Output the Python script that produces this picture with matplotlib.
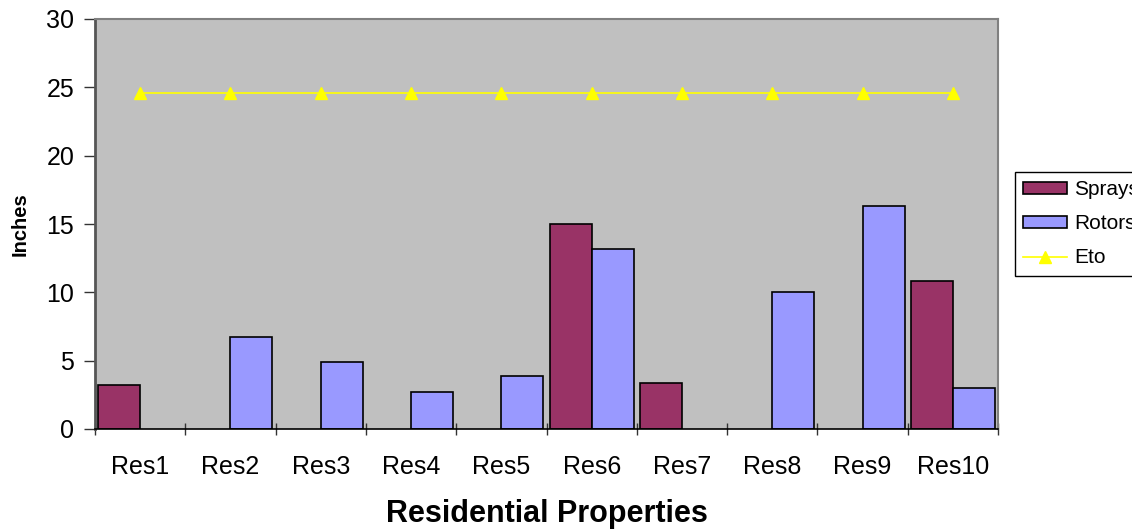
import matplotlib
matplotlib.use("Agg")
import matplotlib.pyplot as plt
import numpy as np
from matplotlib.lines import Line2D
from matplotlib.patches import Patch

plt.rcParams["font.family"] = ["Liberation Sans", "DejaVu Sans"]

categories = ["Res1", "Res2", "Res3", "Res4", "Res5", "Res6", "Res7", "Res8", "Res9", "Res10"]
sprays = [3.2, 0, 0, 0, 0, 15.0, 3.4, 0, 0, 10.8]
rotors = [0, 6.7, 4.9, 2.7, 3.9, 13.2, 0, 10.0, 16.3, 3.0]
eto = [24.6] * 10

SPRAY_C = "#993366"
ROTOR_C = "#9999FF"
ETO_C = "#FFFF00"

fig = plt.figure(figsize=(11.32, 5.30), dpi=100)
ax = fig.add_axes([95 / 1132, 101 / 530, 903 / 1132, 410 / 530])
ax.set_facecolor("#C0C0C0")

x = np.arange(len(categories))
w = 0.465
for xi, v in zip(x, sprays):
    if v > 0:
        ax.bar(xi - w / 2, v, width=w, color=SPRAY_C, edgecolor="black", linewidth=1.2, zorder=2)
for xi, v in zip(x, rotors):
    if v > 0:
        ax.bar(xi + w / 2, v, width=w, color=ROTOR_C, edgecolor="black", linewidth=1.2, zorder=2)
ax.plot(x, eto, color=ETO_C, linewidth=1.2, marker="^", markersize=8, zorder=3)

ax.set_xlim(-0.5, len(categories) - 0.5)
ax.set_ylim(0, 30)
ax.set_yticks([0, 5, 10, 15, 20, 25, 30])
ax.tick_params(axis="y", labelsize=18, length=8, width=1, direction="out", pad=7, color="#333333")

# category labels at centres, tick marks at boundaries
ax.set_xticks(x)
ax.set_xticklabels(categories, fontsize=18)
ax.tick_params(axis="x", which="major", length=0, pad=19)
ax.set_xticks(np.arange(-0.5, len(categories)), minor=True)
ax.tick_params(axis="x", which="minor", length=8, width=1, direction="inout", color="#333333")

for side in ("top", "right"):
    ax.spines[side].set_color("#808080")
    ax.spines[side].set_linewidth(1.5)
ax.spines["left"].set_color("#555555")
ax.spines["left"].set_linewidth(2)
ax.spines["bottom"].set_color("black")
ax.spines["bottom"].set_linewidth(1.2)

ax.set_xlabel("Residential Properties", fontsize=22, fontweight="bold", labelpad=14)
ax.set_ylabel("Inches", fontsize=14.5, fontweight="bold", labelpad=12)

handles = [
    Patch(facecolor=SPRAY_C, edgecolor="black", linewidth=1.2),
    Patch(facecolor=ROTOR_C, edgecolor="black", linewidth=1.2),
    Line2D([], [], color=ETO_C, linewidth=1.2, marker="^", markersize=8),
]
leg = fig.legend(handles, ["Sprays", "Rotors", "Eto"], loc="upper left",
                 bbox_to_anchor=(1015 / 1132, 1 - 172 / 530), fontsize=15,
                 frameon=True, fancybox=False, edgecolor="black", framealpha=1,
                 handlelength=2.1, handleheight=0.5, handletextpad=0.35,
                 labelspacing=0.72, borderpad=0.4, borderaxespad=0)
leg.get_frame().set_linewidth(1)

fig.savefig("out.png", dpi=100)
